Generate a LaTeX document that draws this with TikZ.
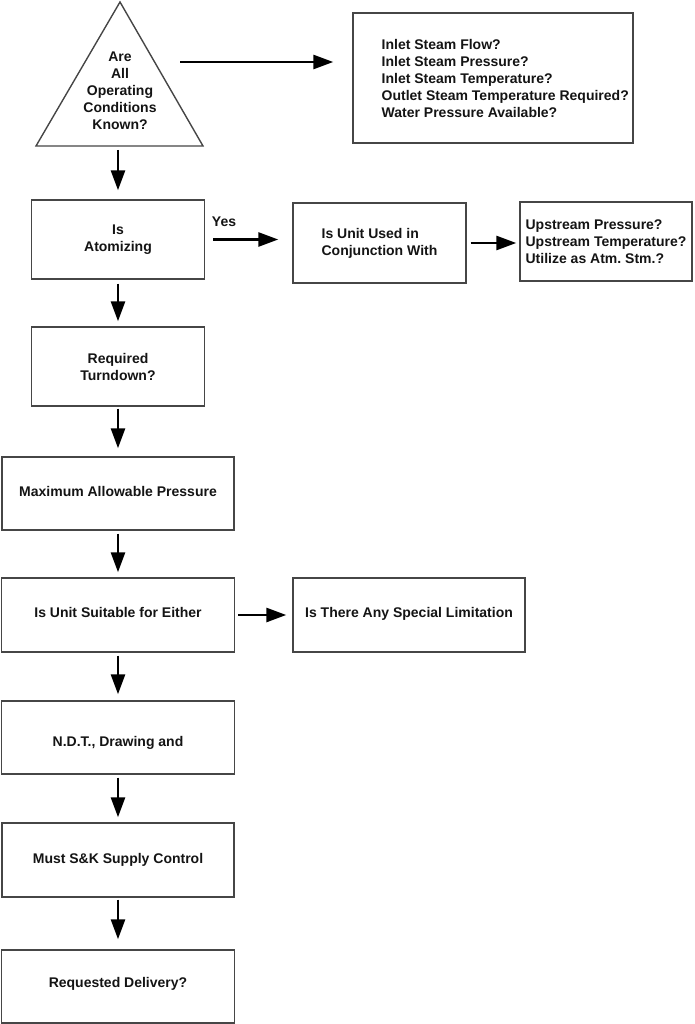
\documentclass[tikz,border=0pt]{standalone}
\usepackage{fontspec}
\setmainfont{Liberation Sans}
\usetikzlibrary{arrows.meta}
\definecolor{boxgray}{RGB}{70,70,70}
\definecolor{inkblack}{RGB}{20,20,20}
\frenchspacing
\begin{document}
\begin{tikzpicture}[x=1pt,y=-1pt,
  txt/.style={font=\bfseries\fontsize{14}{17}\selectfont, text=inkblack},
  box/.style={txt, draw=boxgray, line width=1.4pt, inner sep=0pt, align=center},
  one/.style={text height=10pt, text depth=#1},
  lbl/.style={txt, inner sep=0pt, align=left},
  flow/.style={draw=black, line width=2.8pt, -{Triangle[length=20pt,width=14pt]}}]
\useasboundingbox (0,0) rectangle (694,1024);
\fill[white] (0,0) rectangle (694,1024);

% triangle
\coordinate (ta) at (120,2);
\coordinate (tl) at (36,146);
\coordinate (tr) at (203,146);
\draw[boxgray, line width=1.4pt, line join=miter] (ta) -- (tl) -- (tr) -- cycle;
\node[lbl, align=center] (tri) at (120,91) {Are\\All\\Operating\\Conditions\\Known?};
\coordinate (tb) at (118,146);
\coordinate (tx) at (180,62);

% question box top right
\node[box, minimum width=280pt, minimum height=130pt] (q1) at (493,78) {};
\node[lbl, anchor=west] (q1t) at (381.5,78) {Inlet Steam Flow?\\Inlet Steam Pressure?\\Inlet Steam Temperature?\\Outlet Steam Temperature Required?\\Water Pressure Available?};

% main column
\node[box, minimum width=173pt, minimum height=79pt] (atom) at (118,239.5) {Is\\Atomizing};
\node[box, minimum width=173pt, minimum height=79pt] (turn) at (118,366.5) {Required\\Turndown?};
\node[box, one=4pt, minimum width=232pt, minimum height=73pt] (maxp) at (118,493.5) {Maximum Allowable Pressure};
\node[box, one=5pt, minimum width=233pt, minimum height=74pt] (suit) at (118,615) {Is Unit Suitable for Either};
\node[box, text height=20pt, text depth=3pt, minimum width=233pt, minimum height=73pt] (ndt) at (118,737.5) {N.D.T., Drawing and};
\node[box, one=3pt, minimum width=232pt, minimum height=74pt] (must) at (118,860) {Must S\&K Supply Control};
\node[box, one=8pt, minimum width=233pt, minimum height=73pt] (deliv) at (118,986.5) {Requested Delivery?};

% side boxes
\node[box, align=left, minimum width=173pt, minimum height=80pt] (conj) at (379.5,243) {Is Unit Used in\\Conjunction With};
\node[box, align=left, minimum width=172pt, minimum height=79pt] (up) at (606,241.5) {Upstream Pressure?\\Upstream Temperature?\\Utilize as Atm.\ Stm.?};
\node[box, one=5pt, minimum width=232pt, minimum height=74pt] (spec) at (409,615) {Is There Any Special Limitation};

\node[lbl] (yes) at (224,222) {Yes};

% connectors
\draw[flow, shorten >=19pt] (tx) -- (tx -| q1.west);
\draw[flow, shorten <=4pt, shorten >=9pt] (tb) -- (tb |- atom.north);
\draw[flow, shorten <=4pt, shorten >=5pt] (atom) -- (turn);
\draw[flow, shorten <=2pt, shorten >=8pt] (turn) -- (maxp);
\draw[flow, shorten <=3pt, shorten >=5pt] (maxp) -- (suit);
\draw[flow, shorten <=3pt, shorten >=6pt] (suit) -- (ndt);
\draw[flow, shorten <=3pt, shorten >=5pt] (ndt) -- (must);
\draw[flow, shorten <=2pt, shorten >=10pt] (must) -- (deliv);
\draw[flow, shorten <=8pt, shorten >=14pt] (atom.east) -- (atom.east -| conj.west);
\draw[flow, shorten <=4pt, shorten >=3pt] (conj.east) -- (conj.east -| up.west);
\draw[flow, shorten <=3pt, shorten >=6pt] (suit.east) -- (spec.west);
\end{tikzpicture}
\end{document}
